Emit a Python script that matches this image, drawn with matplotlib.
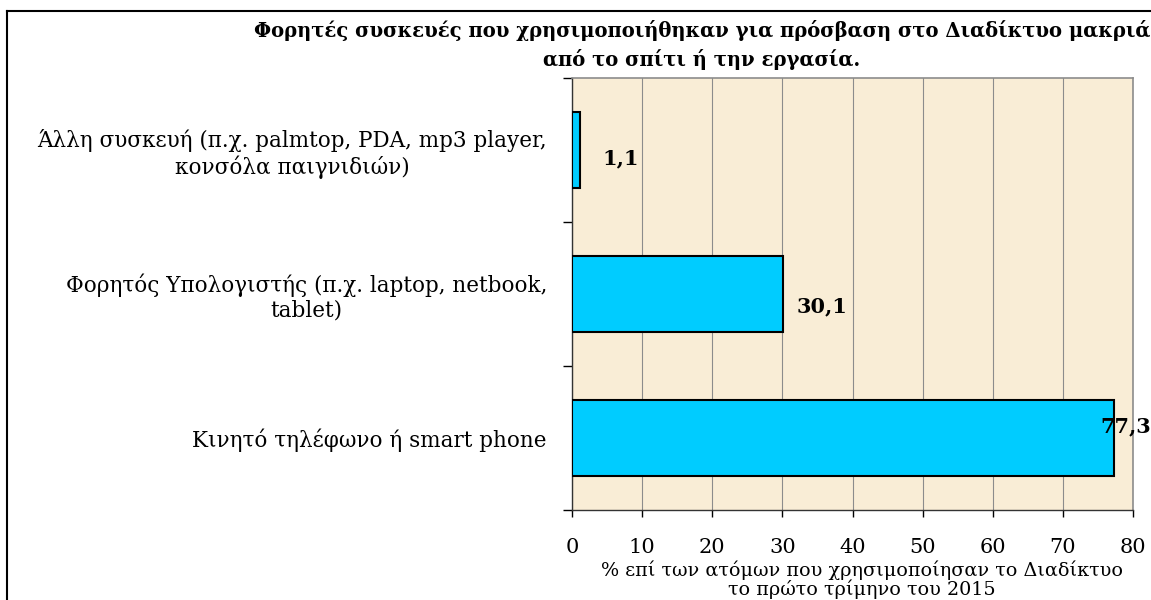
import matplotlib
matplotlib.use("Agg")
import matplotlib.pyplot as plt
from matplotlib.lines import Line2D

# Daten
categories = [
    "Άλλη συσκευή (π.χ. palmtop, PDA, mp3 player,\nκονσόλα παιγνιδιών)",
    "Φορητός Υπολογιστής (π.χ. laptop, netbook,\ntablet)",
    "Κινητό τηλέφωνο ή smart phone",
]
values = [1.1, 30.1, 77.3]
value_labels = ["1,1", "30,1", "77,3"]
x_ticks = [0, 10, 20, 30, 40, 50, 60, 70, 80]

title = ("Φορητές συσκευές που χρησιμοποιήθηκαν για πρόσβαση στο Διαδίκτυο μακριά\n"
         "από το σπίτι ή την εργασία.")
x_label = "% επί των ατόμων που χρησιμοποίησαν το Διαδίκτυο\nτο πρώτο τρίμηνο του 2015"

# Stil
W, H = 1151, 600
plt.rcParams['font.family'] = ['DejaVu Serif']
bar_color = '#00CCFF'
bg_color = '#F9EDD6'
grid_color = '#8c8c8c'
# Versatz der Wertbeschriftungen in Pixel (x vom Balkenende, y von der Balkenmitte)
label_offsets = [(23, -8), (13, -12), (-14, 12)]

fig = plt.figure(figsize=(W / 100, H / 100), dpi=100)
ax = fig.add_axes([572 / W, 1 - 510 / H, (1133 - 572) / W, (510 - 78) / H])
ax.set_facecolor(bg_color)

pos = list(range(len(categories)))
ax.barh(pos, values, height=0.53, color=bar_color, edgecolor='black',
        linewidth=1.5, zorder=3)

ax.set_xlim(0, 80)
ax.set_ylim(len(categories) - 0.5, -0.5)

# x-Achse
ax.set_xticks(x_ticks)
ax.set_xticklabels([str(t) for t in x_ticks], fontsize=15)
ax.tick_params(axis='x', direction='out', length=5, width=1, pad=15)
ax.grid(axis='x', color=grid_color, linewidth=0.8, zorder=1)

# y-Achse: Striche an den Grenzen, Beschriftung in der Mitte
ax.set_yticks([p - 0.5 for p in pos] + [pos[-1] + 0.5])
ax.set_yticklabels([])
ax.tick_params(axis='y', which='major', direction='out', length=6.5, width=1)
ax.set_yticks(pos, minor=True)
ax.set_yticklabels(categories, minor=True, fontsize=15.5,
                   multialignment='center', linespacing=1.15)
ax.tick_params(axis='y', which='minor', length=0, pad=18)

for side in ['top', 'right']:
    ax.spines[side].set_color(grid_color)
    ax.spines[side].set_linewidth(1.2)
for side in ['left', 'bottom']:
    ax.spines[side].set_color('#333333')
    ax.spines[side].set_linewidth(1.0)

# Wertbeschriftungen
for p, v, lab, (dx, dy) in zip(pos, values, value_labels, label_offsets):
    ax.annotate(lab, (v, p), xytext=(dx * 0.72, dy * 0.72),
                textcoords='offset points', ha='left', va='center',
                fontsize=15, fontweight='bold', zorder=4)

# Titel und Achsentitel
fig.text(702 / W, 1 - 45 / H, title, ha='center', va='center',
         multialignment='center', fontsize=14.1, fontweight='bold',
         linespacing=1.45)
fig.text(862 / W, 1 - 580 / H, x_label, ha='center', va='center',
         multialignment='center', fontsize=13.8, linespacing=0.95)

# Rahmen links und oben
bx, by = 7.5 / W, 1 - 11 / H
fig.add_artist(Line2D([bx, bx], [0, by], color='black', linewidth=1.5,
                      transform=fig.transFigure))
fig.add_artist(Line2D([bx, 1], [by, by], color='black', linewidth=1.5,
                      transform=fig.transFigure))

fig.savefig("out.png", dpi=100, facecolor='white')
